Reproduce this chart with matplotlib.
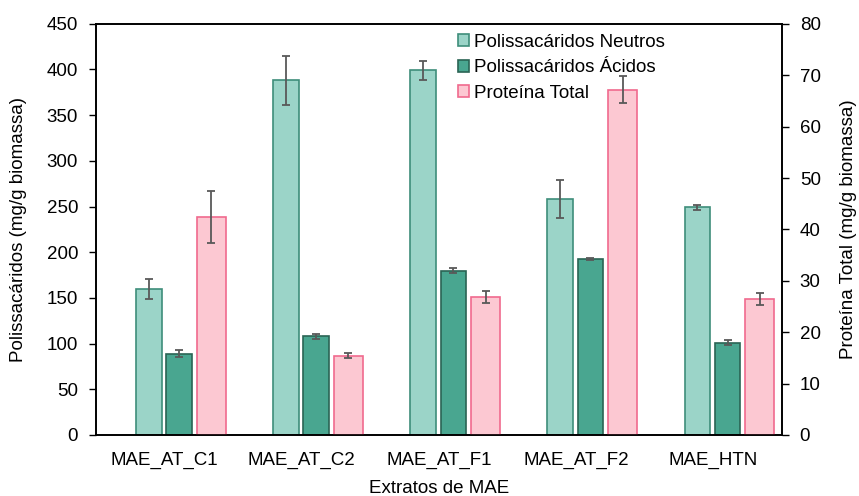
import matplotlib
matplotlib.use("Agg")
from matplotlib import pyplot as plt
from matplotlib.patches import Patch
import numpy as np

plt.rcParams['font.family'] = ['Liberation Sans', 'DejaVu Sans']
plt.rcParams['font.size'] = 13.5

extratos = ["MAE_AT_C1", "MAE_AT_C2", "MAE_AT_F1", "MAE_AT_F2", "MAE_HTN"]

neutros = [160, 388, 399, 258, 249]
neutros_err = [11, 27, 10, 21, 3]

acidos = [89, 108, 180, 193, 101]
acidos_err = [4, 2.5, 2.5, 1, 2.5]

proteina = [42.4, 15.4, 26.8, 67.2, 26.4]
proteina_err = [5, 0.5, 1.2, 2.6, 1.2]

c_neu, e_neu = "#9bd4c8", "#3e8e7a"
c_aci, e_aci = "#49a690", "#2a6454"
c_pro, e_pro = "#fcc8d2", "#f06a8e"
c_err = "#595959"

x = np.arange(len(extratos))
w = 0.187

fig = plt.figure(figsize=(8.59, 4.96), dpi=100)
ax = fig.add_axes([0.112, 0.123, 0.798, 0.829])
ax2 = ax.twinx()

err_kw = dict(ecolor=c_err, elinewidth=1.3, capsize=3, capthick=1.3)

ax.bar(x - 0.115, neutros, w, yerr=neutros_err, color=c_neu,
       edgecolor=e_neu, linewidth=1.2, error_kw=err_kw, zorder=2)
ax.bar(x + 0.105, acidos, w, yerr=acidos_err, color=c_aci,
       edgecolor=e_aci, linewidth=1.2, error_kw=err_kw, zorder=2)
ax2.bar(x + 0.34, proteina, 0.21, yerr=proteina_err, color=c_pro,
        edgecolor=e_pro, linewidth=1.2, error_kw=err_kw, zorder=2)

ax.set_xlim(-0.5, len(extratos) - 0.5)
ax.set_ylim(0, 450)
ax.set_yticks(np.arange(0, 451, 50))
ax2.set_ylim(0, 80)
ax2.set_yticks(np.arange(0, 81, 10))

ax.set_xticks(x)
ax.set_xticklabels(extratos)
ax.tick_params(axis='x', length=0, pad=12)
ax.tick_params(axis='y', direction='out', length=5, width=1, pad=8)
ax2.tick_params(axis='y', direction='out', length=5, width=1, pad=8)

for a in (ax, ax2):
    for s in a.spines.values():
        s.set_linewidth(1.2)

ax.set_xlabel("Extratos de MAE", labelpad=8)
ax.set_ylabel("Polissacáridos (mg/g biomassa)", labelpad=14)
ax2.set_ylabel("Proteína Total (mg/g biomassa)", labelpad=14)

handles = [
    Patch(facecolor=c_neu, edgecolor=e_neu, linewidth=1.2, label="Polissacáridos Neutros"),
    Patch(facecolor=c_aci, edgecolor=e_aci, linewidth=1.2, label="Polissacáridos Ácidos"),
    Patch(facecolor=c_pro, edgecolor=e_pro, linewidth=1.2, label="Proteína Total"),
]
ax2.legend(handles=handles, loc="upper left",
           bbox_to_anchor=(458 / 859, 1 - 34 / 496), bbox_transform=fig.transFigure,
           frameon=False, handlelength=0.6, handleheight=0.6,
           handletextpad=0.25, labelspacing=0.45, borderaxespad=0, borderpad=0)

fig.savefig("out.png", dpi=100)
plt.close('all')
